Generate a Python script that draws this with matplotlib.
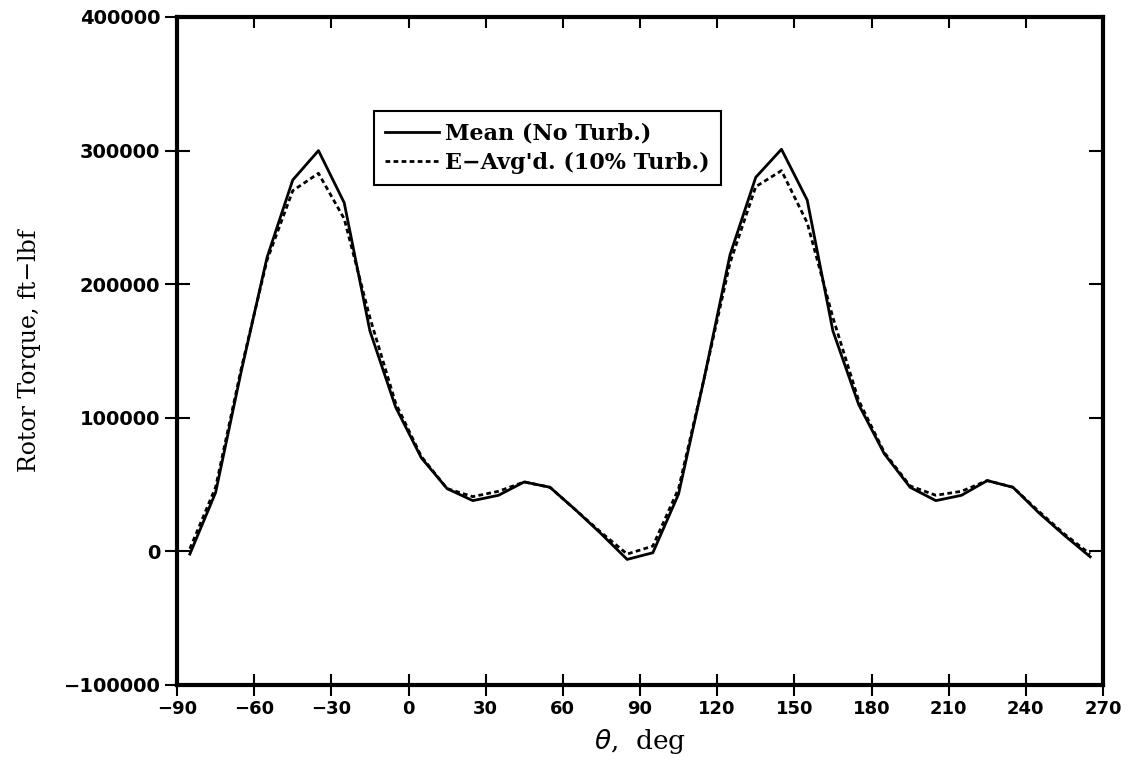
import matplotlib
matplotlib.use("Agg")
import matplotlib.pyplot as plt
import numpy as np

# azimuth angle, deg
theta = [-85, -75, -65, -55, -45, -35, -25, -15, -5, 5, 15, 25, 35, 45, 55, 65, 75, 85,
         95, 105, 115, 125, 135, 145, 155, 165, 175, 185, 195, 205, 215, 225, 235, 245, 255, 265]

# rotor torque, ft-lbf
mean_no_turb = [-2000, 44000, 135000, 220000, 278000, 300000, 261000, 165000, 108000, 70000,
                47000, 38000, 42000, 52000, 48000, 31000, 13000, -6000,
                -1000, 43000, 130000, 222000, 280000, 301000, 263000, 165000, 110000, 73000,
                48000, 38000, 42000, 53000, 48000, 29000, 12000, -4000]
eavg_turb10 = [2000, 48000, 137000, 218000, 270000, 283000, 249000, 175000, 111000, 71000,
               47000, 41000, 45000, 52000, 48000, 31000, 14000, -2000,
               4000, 47000, 130000, 216000, 273000, 285000, 246000, 175000, 113000, 74000,
               49000, 42000, 45000, 53000, 48000, 30000, 13000, -2000]

xticks = [-90, -60, -30, 0, 30, 60, 90, 120, 150, 180, 210, 240, 270]
yticks = [-100000, 0, 100000, 200000, 300000, 400000]

fig = plt.figure(figsize=(11.32, 7.63), dpi=100)
ax = fig.add_axes([177 / 1132, 1 - 685 / 763, (1103 - 177) / 1132, (685 - 17) / 763])

ax.plot(theta, mean_no_turb, color="black", lw=2.0, label="Mean (No Turb.)")
ax.plot(theta, eavg_turb10, color="black", lw=2.0, ls=(0, (1.7, 1.2)),
        label="E\u2212Avg'd. (10% Turb.)")

ax.set_xlim(-90, 270)
ax.set_ylim(-100000, 400000)
ax.set_xticks(xticks)
ax.set_yticks(yticks)
ax.set_xticklabels([str(t).replace("-", "\u2212") for t in xticks],
                   fontfamily="DejaVu Sans", fontweight="bold", fontsize=13)
ax.set_yticklabels([str(t).replace("-", "\u2212") for t in yticks],
                   fontfamily="DejaVu Sans", fontweight="bold", fontsize=14)

ax.tick_params(axis="x", direction="inout", length=16, width=1.5, pad=3)
ax.tick_params(axis="y", direction="inout", length=18, width=1.5, pad=3)
for side in ["top", "bottom", "left", "right"]:
    ax.spines[side].set_linewidth(3)

# inward-only ticks on top and right
top = ax.secondary_xaxis("top")
top.set_xticks(xticks)
top.tick_params(direction="in", length=8, width=1.5, labeltop=False)
right = ax.secondary_yaxis("right")
right.set_yticks(yticks)
right.tick_params(direction="in", length=10, width=1.5, labelright=False)

ax.set_xlabel(r"$\theta$,  deg", fontfamily="DejaVu Serif", fontsize=19, labelpad=6)
ax.set_ylabel("Rotor Torque, ft\u2212lbf", fontfamily="DejaVu Serif", fontsize=17, labelpad=16)

leg = ax.legend(loc="upper left", bbox_to_anchor=(0.213, 0.859), frameon=True, fancybox=False,
                edgecolor="black", framealpha=1, handlelength=2.4, handletextpad=0.3,
                borderpad=0.5, labelspacing=0.35, borderaxespad=0,
                prop={"family": "DejaVu Serif", "size": 16, "weight": "bold"})
leg.get_frame().set_linewidth(1.5)

fig.savefig("out.png", dpi=100)
